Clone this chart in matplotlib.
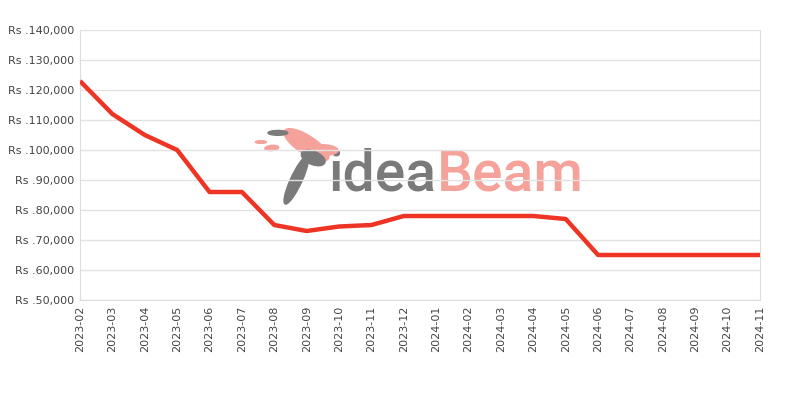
import matplotlib.pyplot as plt
from matplotlib.patches import Ellipse

months = ['2023-02', '2023-03', '2023-04', '2023-05', '2023-06', '2023-07',
          '2023-08', '2023-09', '2023-10', '2023-11', '2023-12', '2024-01',
          '2024-02', '2024-03', '2024-04', '2024-05', '2024-06', '2024-07',
          '2024-08', '2024-09', '2024-10', '2024-11']
prices = [123000, 112000, 105000, 100000, 86000, 86000,
          75000, 73000, 74500, 75000, 78000, 78000,
          78000, 78000, 78000, 77000, 65000, 65000,
          65000, 65000, 65000, 65000]
yticks = [50000, 60000, 70000, 80000, 90000, 100000, 110000, 120000, 130000, 140000]

fig = plt.figure(figsize=(8, 4), dpi=100)
ax = fig.add_axes([0.1, 0.25, 0.85, 0.675])

x = list(range(len(months)))

# watermark: text plus a rough bird shape
t1 = ax.text(0.366, 0.405, 'idea', transform=ax.transAxes, fontsize=41,
             color='#7a7a7a', ha='left', va='baseline', zorder=1,
             family='Roboto', weight='medium')
ax.annotate('Beam', xy=(1, 0), xycoords=t1, xytext=(0, 0), textcoords='offset points',
            fontsize=41, color='#f5a29a', ha='left', va='bottom', zorder=1,
            family='Roboto', weight='medium')
bird = [((0.333, 0.575), 0.04, 0.13, 25, '#f5a29a'),
        ((0.357, 0.555), 0.045, 0.04, -10, '#f5a29a'),
        ((0.318, 0.444), 0.018, 0.18, -10, '#7a7a7a'),
        ((0.343, 0.526), 0.03, 0.06, 20, '#7a7a7a'),
        ((0.291, 0.619), 0.029, 0.018, 0, '#7a7a7a'),
        ((0.282, 0.563), 0.022, 0.018, 40, '#f5a29a'),
        ((0.266, 0.585), 0.016, 0.01, 0, '#f5a29a')]
for c, w, h, a, col in bird:
    ax.add_patch(Ellipse(c, w, h, angle=a, transform=ax.transAxes, color=col, zorder=1))

ax.plot(x, prices, color='#ee3424', linewidth=3.2, solid_capstyle='butt', zorder=3)

ax.set_xlim(0, len(months) - 1)
ax.set_ylim(50000, 140000)
ax.set_xticks(x)
ax.set_xticklabels(months, rotation=90, fontsize=8, color='#444444')
ax.set_yticks(yticks)
ax.set_yticklabels(['Rs .{:,}'.format(v) for v in yticks], fontsize=8, color='#444444')
ax.tick_params(length=0, pad=4)
ax.grid(axis='y', color='#e2e2e2', linewidth=1)
for s in ax.spines.values():
    s.set_color('#dddddd')
ax.spines['top'].set_visible(False)

fig.savefig('out.png', dpi=100)
